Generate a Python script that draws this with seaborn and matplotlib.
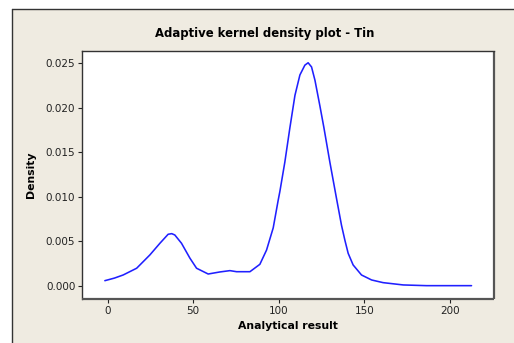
import matplotlib
matplotlib.use("Agg")
import matplotlib.pyplot as plt
import seaborn as sns
import pandas as pd
from matplotlib.patches import Rectangle

# Data
result = [-1.6, 4.0, 9.1, 17.0, 24.7, 30.6, 35.4, 37.5, 39.3, 43.2, 48.1, 52.0,
          58.8, 65.6, 71.5, 75.4, 83.2, 89.0, 92.9, 96.8, 99.7, 100.7, 103.6,
          106.5, 109.5, 112.4, 115.3, 117.2, 119.2, 121.2, 124.1, 126.4, 129.9,
          133.8, 136.7, 138.7, 140.6, 143.5, 148.4, 154.3, 161.0, 172.8, 186.4,
          200.0, 212.7]
density = [0.00056, 0.00085, 0.00120, 0.00196, 0.00345, 0.00477, 0.00578,
           0.00585, 0.00570, 0.00477, 0.00310, 0.00196, 0.00131, 0.00154,
           0.00169, 0.00157, 0.00157, 0.00240, 0.00400, 0.00650, 0.00960,
           0.01060, 0.01390, 0.01770, 0.02140, 0.02370, 0.02480, 0.02507,
           0.02460, 0.02310, 0.02020, 0.01780, 0.01390, 0.00980, 0.00680,
           0.00510, 0.00364, 0.00233, 0.00120, 0.00064, 0.00034, 0.00008,
           0.00000, 0.00000, 0.00000]
x_ticks = [0, 50, 100, 150, 200]
y_ticks = [0.000, 0.005, 0.010, 0.015, 0.020, 0.025]

df = pd.DataFrame({"Analytical result": result, "Density": density})

sns.set_style("ticks")
plt.rcParams['font.family'] = ['DejaVu Sans']

bg = "#EFEBE1"
fig = plt.figure(figsize=(5.14, 3.43), dpi=100, facecolor=bg)
ax = fig.add_axes([0.160, 0.127, 0.801, 0.725])
ax.set_facecolor("white")

sns.lineplot(data=df, x="Analytical result", y="Density", ax=ax,
             color="#2020FF", linewidth=1.15, sort=True, estimator=None)

ax.set_xlim(-14.8, 225.8)
ax.set_ylim(-0.00155, 0.02642)
ax.set_xticks(x_ticks)
ax.set_xticklabels([str(v) for v in x_ticks])
ax.set_yticks(y_ticks)
ax.set_yticklabels([f"{v:.3f}" for v in y_ticks])
ax.tick_params(axis="both", direction="out", length=3, width=0.8,
               labelsize=7.5, colors="#222222", pad=2)

for side in ["left", "top"]:
    ax.spines[side].set_color("#333333")
    ax.spines[side].set_linewidth(1.0)
for side in ["right", "bottom"]:
    ax.spines[side].set_color("#555555")
    ax.spines[side].set_linewidth(1.6)
    ax.spines[side].set_capstyle("butt")

ax.set_xlabel("Analytical result", fontsize=7.8, fontweight="bold", labelpad=3,
              color="black")
ax.set_ylabel("Density", fontsize=7.8, fontweight="bold", labelpad=7,
              color="black")

fig.text(0.514, 0.903, "Adaptive kernel density plot - Tin", ha="center",
         va="center", fontsize=8.4, fontweight="bold", color="black")

# outer frame lines (left and top)
fig.add_artist(plt.Line2D([12/514, 12/514], [0, 1 - 9/343], transform=fig.transFigure,
                          color="#333333", linewidth=1.0))
fig.add_artist(plt.Line2D([12/514, 1], [1 - 9/343, 1 - 9/343], transform=fig.transFigure,
                          color="#333333", linewidth=1.0))
fig.patches.append(Rectangle((0, 0), 12/514, 1, transform=fig.transFigure,
                             facecolor="white", edgecolor="none", zorder=-1))
fig.patches.append(Rectangle((0, 1 - 9/343), 1, 9/343, transform=fig.transFigure,
                             facecolor="white", edgecolor="none", zorder=-1))

fig.savefig("out.png", dpi=100, facecolor=fig.get_facecolor())
